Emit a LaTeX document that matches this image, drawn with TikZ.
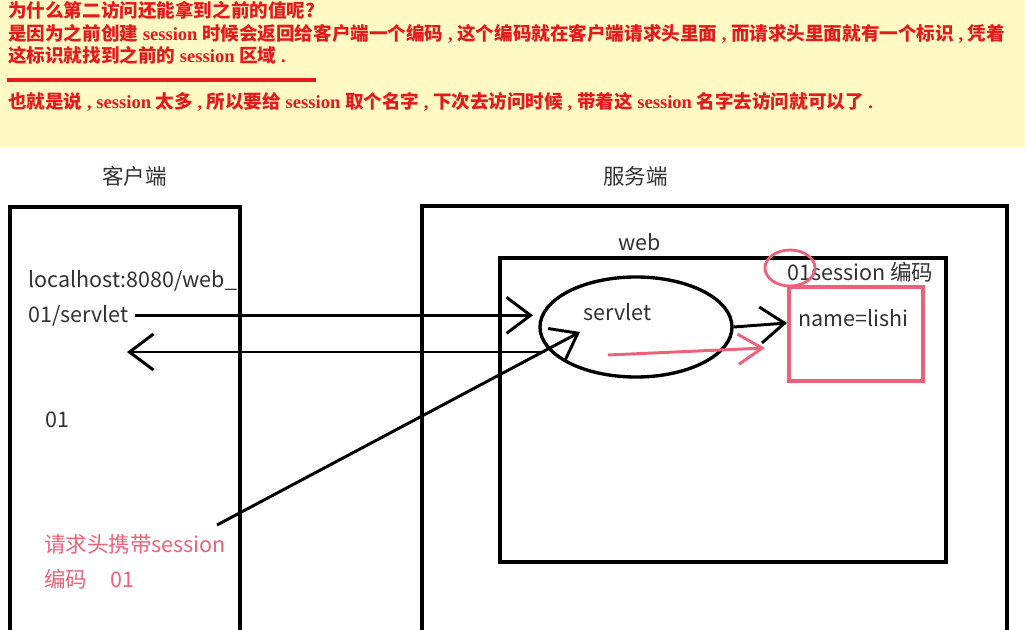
\documentclass[tikz,border=0pt]{standalone}
\usepackage{fontspec}
\setmainfont{Liberation Serif}
\newfontfamily\cjk{Noto Sans CJK SC}
\usetikzlibrary{arrows.meta,shapes.geometric}

\definecolor{bannerbg}{RGB}{255,249,196}
\definecolor{notered}{RGB}{228,26,28}
\definecolor{penpink}{RGB}{236,98,122}
\definecolor{inkgray}{RGB}{50,50,50}

\newcommand\zh[1]{{\cjk #1}}

\begin{document}
\begin{tikzpicture}[x=0.025cm,y=-0.025cm,
    box/.style={draw,line width=2.6pt},
    ink/.style={line width=2.1pt,-{Straight Barb[length=6mm,width=9mm]}},
    pinkink/.style={line width=2.1pt,penpink,-{Straight Barb[length=6mm,width=7.5mm]}},
    txt/.style={text=inkgray,font=\cjk\fontsize{15.3}{18}\selectfont,inner sep=0pt,anchor=base west},
    pinktxt/.style={txt,text=penpink},
    notetxt/.style={text=notered,font=\bfseries\fontsize{13.2}{15}\selectfont,inner sep=0pt,anchor=base west},
]

    \useasboundingbox (0,0) rectangle (1025,630);
    \clip (0,0) rectangle (1025,630);
    \fill[white] (0,0) rectangle (1025,630);

    % the note on top
    \fill[bannerbg] (0,0) rectangle (1025,147);
    \node[notetxt] (q) at (8,18) {\zh{为什么第二访问还能拿到之前的值呢?}};
    \node[notetxt] (a1) at (8,41) {\zh{是因为之前创建} session \zh{时候会返回给客户端一个编码} , \zh{这个编码就在客户端请求头里面} , \zh{而请求头里面就有一个标识} , \zh{凭着}};
    \node[notetxt] (a2) at (8,63) {\zh{这标识就找到之前的} session \zh{区域} .};
    \draw[notered,line width=2.2pt] (7,80) -- (316,80);
    \node[notetxt] (a3) at (8,109) {\zh{也就是说} , session \zh{太多} , \zh{所以要给} session \zh{取个名字} , \zh{下次去访问时候} , \zh{带着这} session \zh{名字去访问就可以了} .};

    % client side
    \node[txt] (client) at (102,185) {客户端};
    \draw[box] (10,660) -- (10,207) -- (240,207) -- (240,660);
    \node[txt] (url1) at (28,287) {localhost:8080/web\_};
    \node[txt] (url2) at (28,322) {01/servlet};
    \node[txt] (id) at (45,427) {01};
    \node[pinktxt] (hdr1) at (44,552) {请求头携带session};
    \node[pinktxt] (hdr2) at (44,587) {编码\hspace{1.1em}01};

    % server side
    \node[txt] (server) at (603,185) {服务端};
    \draw[box] (422,660) -- (422,206) -- (1007,206) -- (1007,660);
    \node[txt] (web) at (618,250) {web};
    \draw[box] (500,258) rectangle (946,562);

    \node[draw,ellipse,line width=2.4pt,minimum width=4.8cm,minimum height=2.5cm] (servlet) at (636,327) {};
    \node[txt] (servlettxt) at (583,320) {servlet};

    \node[draw=penpink,line width=2.8pt,minimum width=3.35cm,minimum height=2.35cm] (sess) at (856,334) {};
    \node[txt] (attr) at (798,326) {name=lishi};
    \node[txt] (sessid) at (787,280) {01session 编码};
    \node[draw=penpink,ellipse,line width=2pt,minimum width=1.25cm,minimum height=0.9cm] (mark) at (790,268) {};

    % requests and answers
    \coordinate (in1) at (533,318);
    \coordinate (out1) at (545,352);
    \coordinate (back) at (127,352);
    \coordinate (hdr) at (217,525);
    \coordinate (in2) at (580,332);
    \coordinate (in3) at (787,323);
    \coordinate (p0) at (608,355);
    \coordinate (p1) at (765,348);

    \draw[ink] ([xshift=4pt]url2.east) -- (url2.east -| in1);
    \draw[ink] (out1) -- (back);
    \draw[ink] (hdr) -- (in2);
    \draw[ink] (servlet.east) -- (in3);
    \draw[pinkink] (p0) -- (p1);

\end{tikzpicture}
\end{document}
